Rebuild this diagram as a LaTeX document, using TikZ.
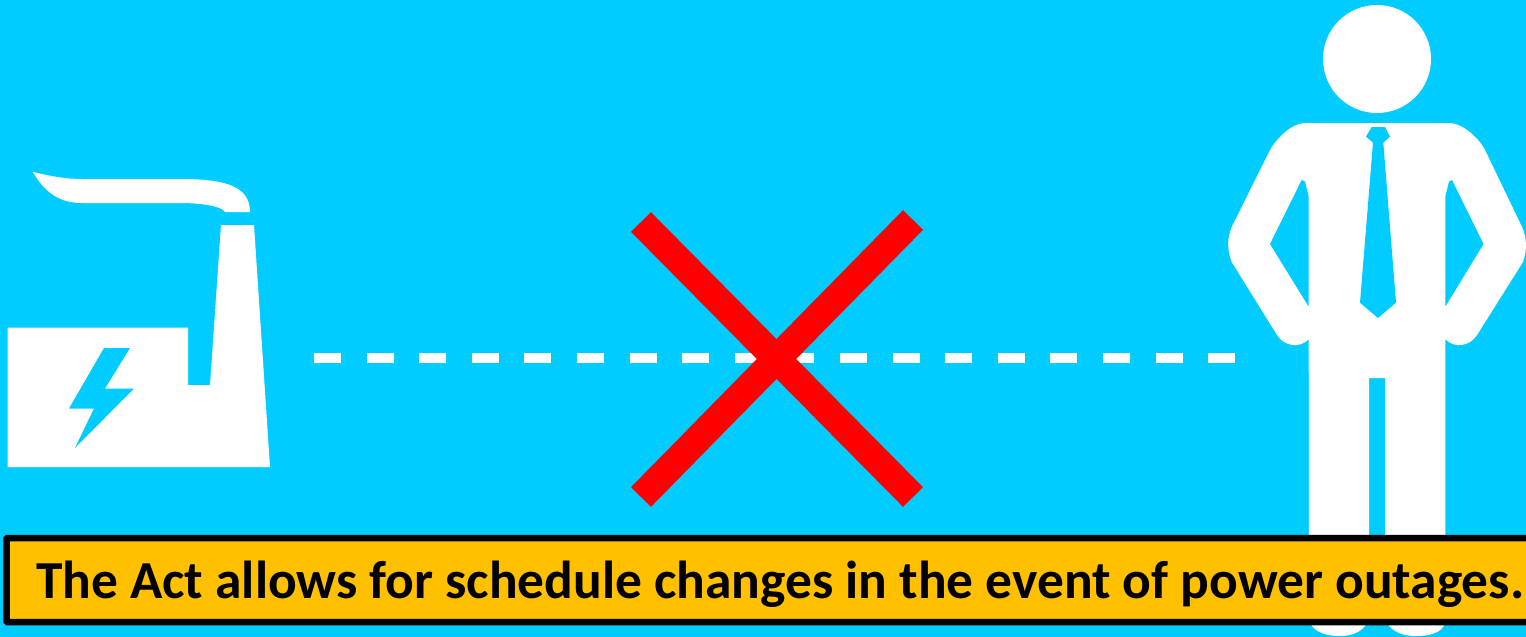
\documentclass[tikz,border=0pt]{standalone}
\usepackage{fontspec}
\setmainfont{Carlito}
\definecolor{skybg}{HTML}{00CCFF}
\definecolor{bannerfill}{HTML}{FFC000}
\tikzset{
  px/.style={x=1pt,y=-1pt},
  icon/.style={fill=white,draw=none},
  cut/.style={fill=skybg,draw=none},
  linkline/.style={draw=white,line width=10pt,dash pattern=on 27pt off 25.6pt},
  crossline/.style={draw=red,line width=28pt},
  banner/.style={draw=black,fill=bannerfill,line width=6.5pt,rounded corners=1pt,minimum width=1530pt,minimum height=84pt,anchor=west,inner sep=0pt,outer sep=0pt},
  bannertext/.style={anchor=base west,inner sep=0pt,outer sep=0pt,font=\fontsize{53.45}{54}\selectfont\bfseries},
}
\begin{document}
\begin{tikzpicture}[px]
\useasboundingbox (0,0) rectangle (1526,637);
\fill[skybg] (0,0) rectangle (1526,637);
% factory
\fill[icon] (33,172) .. controls (50,176) and (65,179) .. (82,179) -- (180,179) .. controls (225,179) and (250,186) .. (250,212) -- (225,212) .. controls (222,206) and (200,203) .. (180,203) -- (82,203) .. controls (60,203) and (45,193) .. (33,172) -- cycle;
\fill[icon] (7.5,327.5) -- (188,327.5) -- (188,385) -- (210,385) -- (221,225) -- (254,225) -- (270,467) -- (7.5,467) -- cycle;
\fill[cut] (104,348) -- (130,348) -- (105,388.5) -- (134,388.5) -- (75,448) -- (94,408.5) -- (69,408.5) -- cycle;
\coordinate (linkstart) at (314,358);
\coordinate (linkend) at (1237,358);
\draw[linkline] (linkstart) -- (linkend);
% cross
\coordinate (xa) at (641,222);
\coordinate (xb) at (913,497);
\coordinate (xc) at (913,220);
\coordinate (xd) at (641,497);
\draw[crossline] (xa) -- (xb);
\draw[crossline] (xc) -- (xd);
% person
\fill[icon] (1377,59) circle (54);
\fill[icon] (1305,123) -- (1449,123) .. controls (1462,123) and (1478,137) .. (1485,150) -- (1522,227) .. controls (1527,238) and (1527,250) .. (1523,262) -- (1477,335) .. controls (1470,346) and (1455,349) .. (1445.3,339.3) -- (1445.3,620) .. controls (1445,630) and (1435,636) .. (1416,636) .. controls (1400,636) and (1390,630) .. (1385,620) -- (1385,378) -- (1369,378) -- (1369,620) .. controls (1364,630) and (1355,636) .. (1340,636) .. controls (1322,636) and (1312,630) .. (1309,620) -- (1308.7,339.3) .. controls (1299,349) and (1284,346) .. (1277,335) -- (1231.7,262) .. controls (1227,250) and (1227,238) .. (1231.7,227) -- (1270,150) .. controls (1277,138) and (1292,123) .. (1305,123) -- cycle;
\fill[cut] (1301.7,180) -- (1305,181.5) -- (1308.7,196.7) -- (1308.7,306.7) -- (1270,244) -- cycle;
\fill[cut] (1452,180) -- (1449,181.5) -- (1445.3,196.7) -- (1445.3,306.7) -- (1483.5,244) -- cycle;
\fill[cut] (1371.7,127) -- (1385,127) -- (1390,136.7) -- (1383.3,142.7) -- (1396,302.7) -- (1378,318) -- (1360,302.7) -- (1373,142.7) -- (1366,136.7) -- cycle;
% banner
\node[banner] (bannerbox) at (6.5,580) {};
\node[bannertext] (bannerlabel) at (36,598) {The Act allows for schedule changes in the event of power outages.};
\end{tikzpicture}
\end{document}
